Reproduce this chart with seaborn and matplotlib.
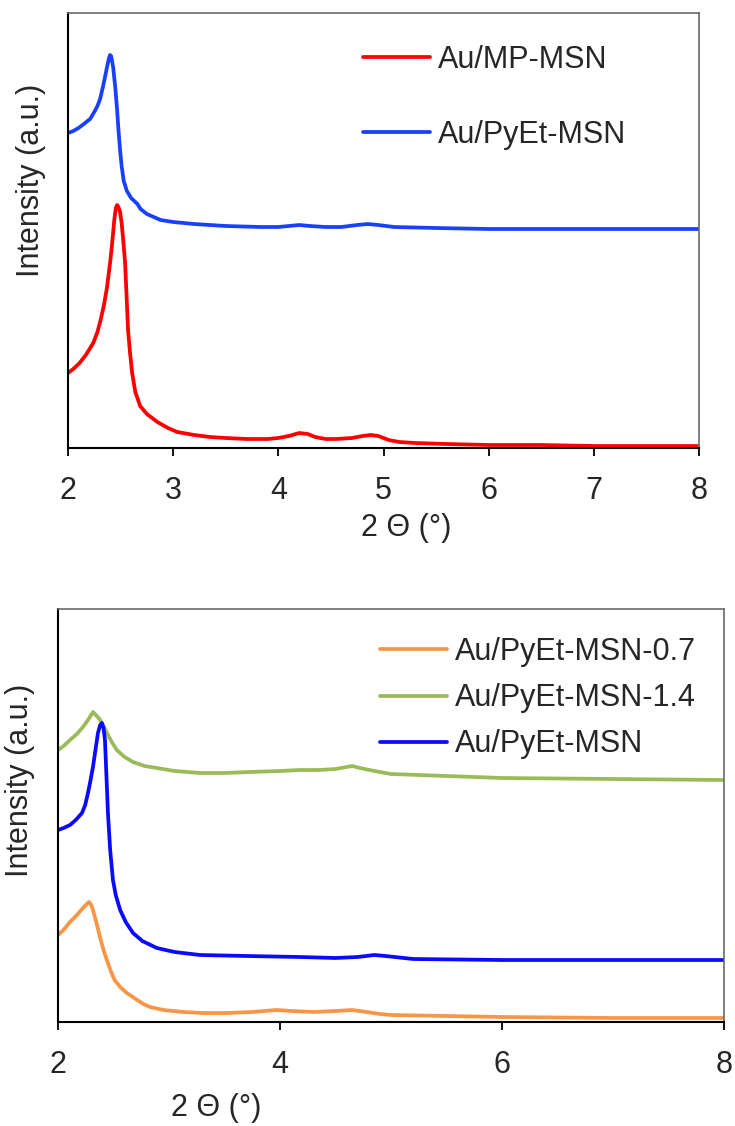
import numpy as np
import pandas as pd
import matplotlib
matplotlib.use("Agg")
import matplotlib.pyplot as plt
import seaborn as sns

# ---------------- data (arbitrary intensity units) ----------------
# top panel
mp_x = [2.0, 2.05, 2.11, 2.17, 2.24, 2.28, 2.31, 2.34, 2.37, 2.40, 2.42, 2.44, 2.455,
        2.467, 2.48, 2.495, 2.51, 2.525, 2.543, 2.557, 2.571, 2.59, 2.61, 2.64, 2.686,
        2.75, 2.85, 2.95, 3.04, 3.2, 3.35, 3.5, 3.7, 3.9, 4.0, 4.1, 4.2, 4.28, 4.35,
        4.45, 4.55, 4.7, 4.8, 4.88, 4.95, 5.05, 5.15, 5.3, 5.6, 6.0, 6.5, 7.0, 7.5, 8.0]
mp_y = [75, 79, 85, 93, 105, 116, 128, 142, 160, 185, 205, 228, 240,
        243, 241, 236, 225, 208, 185, 152, 118, 95, 75, 56, 42,
        34, 26, 20, 16, 13, 11, 10, 9, 9, 10, 12, 15, 14, 11,
        9, 9, 10, 12, 13, 12, 8, 6, 5, 4, 3, 3, 2, 2, 2]

py_x = [2.0, 2.05, 2.1, 2.15, 2.21, 2.25, 2.28, 2.305, 2.33, 2.35, 2.371, 2.39, 2.40,
        2.41, 2.429, 2.45, 2.467, 2.48, 2.495, 2.51, 2.53, 2.56, 2.6, 2.66, 2.69, 2.75,
        2.88, 2.94, 3.0, 3.2, 3.5, 3.83, 4.0, 4.1, 4.2, 4.3, 4.45, 4.6, 4.75, 4.85,
        4.95, 5.1, 5.5, 6.0, 7.0, 8.0]
py_y = [315, 317, 320, 324, 329, 336, 342, 349, 360, 370, 381, 390, 393,
        392, 381, 360, 338, 318, 298, 282, 267, 257, 250, 244, 239, 234,
        228, 227, 226, 224, 222, 221, 221, 222, 223, 222, 221, 221, 223, 224,
        223, 221, 220, 219, 219, 219]

# bottom panel
p07_x = [2.0, 2.05, 2.108, 2.17, 2.225, 2.26, 2.28, 2.3, 2.315, 2.345, 2.378, 2.41,
         2.44, 2.475, 2.51, 2.56, 2.62, 2.7, 2.77, 2.83, 2.95, 3.13, 3.3, 3.52, 3.75,
         3.97, 4.1, 4.3, 4.5, 4.65, 4.78, 4.9, 5.0, 5.5, 6.0, 7.0, 8.0]
p07_y = [87, 92, 100, 107, 114, 118, 120, 117, 112, 100, 85, 72,
         62, 51, 42, 35, 29, 23, 18, 15, 12, 10, 9, 9, 10,
         12, 11, 10, 11, 12, 10, 8, 7, 6, 5, 4, 4]

p14_x = [2.0, 2.05, 2.108, 2.17, 2.225, 2.27, 2.315, 2.35, 2.38, 2.405, 2.45, 2.49,
         2.53, 2.6, 2.676, 2.78, 2.89, 3.05, 3.28, 3.5, 3.73, 4.0, 4.18, 4.35, 4.5,
         4.6, 4.65, 4.72, 4.85, 5.0, 5.25, 5.5, 6.0, 7.0, 8.0]
p14_y = [272, 276, 282, 288, 295, 302, 310, 306, 302, 297, 287, 279,
         272, 265, 260, 256, 254, 251, 249, 249, 250, 251, 252, 252, 253,
         255, 256, 254, 251, 248, 247, 246, 244, 243, 242]

pyb_x = [2.0, 2.05, 2.108, 2.16, 2.216, 2.245, 2.27, 2.29, 2.315, 2.34, 2.36, 2.38,
         2.396, 2.41, 2.423, 2.435, 2.45, 2.47, 2.495, 2.52, 2.56, 2.61, 2.676, 2.76,
         2.89, 3.05, 3.28, 3.7, 4.18, 4.5, 4.7, 4.85, 4.95, 5.2, 6.0, 7.0, 8.0]
pyb_y = [192, 194, 197, 202, 209, 217, 229, 240, 255, 274, 289, 297,
         299, 294, 282, 250, 209, 172, 142, 127, 112, 100, 89, 81,
         74, 70, 67, 66, 65, 64, 65, 67, 66, 63, 62, 62, 62]

top_labels = ["Au/MP-MSN", "Au/PyEt-MSN"]
bot_labels = ["Au/PyEt-MSN-0.7", "Au/PyEt-MSN-1.4", "Au/PyEt-MSN"]
top_colors = ["#FF0000", "#1A40FF"]
bot_colors = ["#F79646", "#9BBB59", "#0A0AFF"]
xlabel = "2 \u0398 (\u00b0)"
ylabel = "Intensity (a.u.)"

# ---------------- frames ----------------
df_top = pd.concat([
    pd.DataFrame({"x": mp_x, "y": mp_y, "s": top_labels[0]}),
    pd.DataFrame({"x": py_x, "y": py_y, "s": top_labels[1]}),
])
df_bot = pd.concat([
    pd.DataFrame({"x": p07_x, "y": p07_y, "s": bot_labels[0]}),
    pd.DataFrame({"x": p14_x, "y": p14_y, "s": bot_labels[1]}),
    pd.DataFrame({"x": pyb_x, "y": pyb_y, "s": bot_labels[2]}),
])

sns.set_theme(style="white")
plt.rcParams["font.family"] = ["Liberation Sans", "DejaVu Sans"]
FS = 22
LW = 2.7

fig = plt.figure(figsize=(7.35, 11.26), dpi=100)
W, H = 735, 1126
ax1 = fig.add_axes([68 / W, (H - 448) / H, 631 / W, 435 / H])
ax2 = fig.add_axes([58 / W, (H - 1022) / H, 666 / W, 413 / H])

sns.lineplot(data=df_top, x="x", y="y", hue="s", hue_order=top_labels,
             palette=top_colors, estimator=None, sort=False, lw=LW, ax=ax1)
sns.lineplot(data=df_bot, x="x", y="y", hue="s", hue_order=bot_labels,
             palette=bot_colors, estimator=None, sort=False, lw=LW, ax=ax2)

ax1.set_xlim(2, 8)
ax1.set_ylim(0, 435)
ax1.set_xticks([2, 3, 4, 5, 6, 7, 8])
ax2.set_xlim(2, 8)
ax2.set_ylim(0, 413)
ax2.set_xticks([2, 4, 6, 8])

for ax in (ax1, ax2):
    ax.set_yticks([])
    ax.tick_params(axis="x", direction="out", length=6, width=1.3, color="black",
                   labelsize=FS, pad=14, bottom=True)
    for side in ("left", "bottom"):
        ax.spines[side].set_color("black")
        ax.spines[side].set_linewidth(1.5)
    for side in ("top", "right"):
        ax.spines[side].set_color("#6a6a6a")
        ax.spines[side].set_linewidth(1.2)
    ax.set_xlabel(xlabel, fontsize=FS)
    ax.set_ylabel(ylabel, fontsize=FS)

ax1.xaxis.set_label_coords(0.536, -0.149)
ax1.yaxis.set_label_coords(-0.035, 0.616)
ax2.xaxis.set_label_coords(0.237, -0.172)
ax2.yaxis.set_label_coords(-0.035, 0.585)

leg1 = ax1.legend(loc="upper left", bbox_to_anchor=((363 - 68) / 631, (448 - 45) / 435),
                  frameon=False, fontsize=FS, handlelength=2.2, handletextpad=0.25,
                  labelspacing=1.46, borderpad=0, borderaxespad=0)
leg2 = ax2.legend(loc="upper left", bbox_to_anchor=((380 - 58) / 666, (1022 - 637) / 413),
                  frameon=False, fontsize=FS, handlelength=2.2, handletextpad=0.25,
                  labelspacing=0.53, borderpad=0, borderaxespad=0)
for leg in (leg1, leg2):
    for h in leg.get_lines():
        h.set_linewidth(LW)

fig.savefig("out.png", dpi=100)
